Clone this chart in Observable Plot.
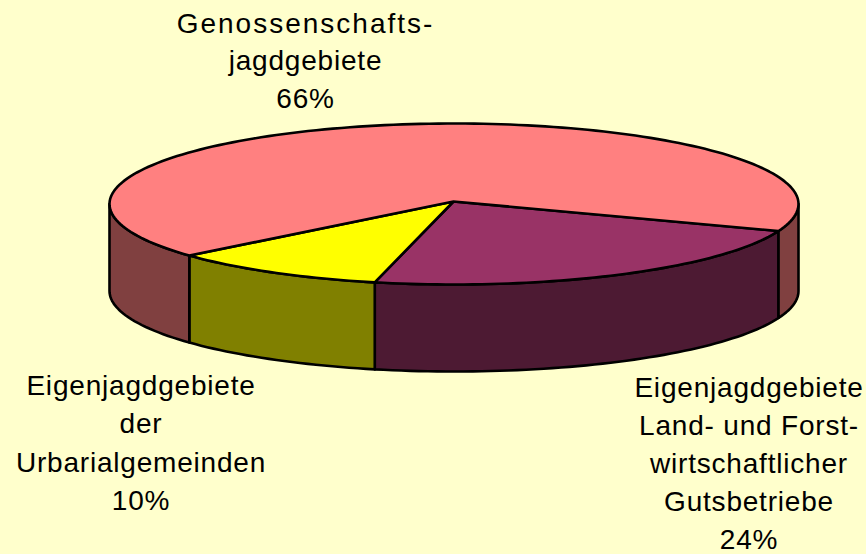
<!DOCTYPE html>
<html><head><meta charset="utf-8">
<style>html,body{margin:0;padding:0;background:#ffffcc}svg{display:block}svg text{letter-spacing:0.8px}</style>
<script src="https://cdn.jsdelivr.net/npm/d3@7"></script>
<script src="https://cdn.jsdelivr.net/npm/@observablehq/plot@0.6"></script>
</head><body><div id="c"></div>
<script>
const categories = ["Eigenjagdgebiete Land- und Forstwirtschaftlicher Gutsbetriebe", "Eigenjagdgebiete der Urbarialgemeinden", "Genossenschaftsjagdgebiete"];
// Slice sizes as measured on the drawn ellipse; the printed percentages are in the labels.
const shares = [23.25, 10.25, 66.5];
const topColors = ["#993366", "#ffff00", "#ff8080"];
const wallColors = ["#4d1a33", "#808000", "#804040"];
const labels = [
  "Eigenjagdgebiete\nLand- und Forst-\nwirtschaftlicher\nGutsbetriebe\n24%",
  "Eigenjagdgebiete\nder\nUrbarialgemeinden\n10%",
  "Genossenschafts-\njagdgebiete\n66%"
];
const labelX = [748.5, 140.5, 305];
const labelY = [370, 366.6, 5.4];
const labelLeading = [1.35, 1.38, 1.34];

const W = 866, H = 554;
const cx = 453.5, cy = 203.5, rx = 344.5, ry = 80.5, depth = 87;
const apex = {x: 453, y: 201};
const startDeg = 19.6;
const rim = (d, dz = 0) => ({
  x: cx + rx * Math.cos(d * Math.PI / 180),
  y: cy + ry * Math.sin(d * Math.PI / 180) + dz
});
const arc = (a, b, dz = 0) => {
  const n = Math.max(2, Math.ceil(Math.abs(b - a) / 1.5));
  return d3.range(n + 1).map(i => rim(a + (b - a) * i / n, dz));
};
let acc = startDeg;
const slices = shares.map((s, i) => {
  const a = acc, b = acc + s * 3.6; acc = b;
  return {a, b, top: topColors[i], wall: wallColors[i]};
});
const poly = (pts, fill) => Plot.line(pts, {
  x: "x", y: "y", fill, stroke: "black", strokeWidth: 2.6,
  strokeLinejoin: "round", curve: "linear-closed"
});
const walls = [];
for (const s of slices) {
  for (const [lo, hi] of [[0, 180], [360, 540]]) {
    const a = Math.max(s.a, lo), b = Math.min(s.b, hi);
    if (b > a) walls.push(poly([...arc(a, b), ...arc(b, a, depth)], s.wall));
  }
}
const tops = slices.map(s => poly([apex, ...arc(s.a, s.b)], s.top));
const texts = labels.map((t, i) => Plot.text([t], {
  x: () => labelX[i], y: () => labelY[i], text: d => d,
  fontSize: 28, lineHeight: labelLeading[i], lineAnchor: "top", textAnchor: "middle", fill: "black"
}));

const plot = Plot.plot({
  width: W, height: H, margin: 0,
  style: {background: "#ffffcc", fontFamily: "'Liberation Sans', Arial, sans-serif"},
  x: {domain: [0, W], range: [0, W], axis: null},
  y: {domain: [0, H], range: [0, H], axis: null},
  marks: [...walls, ...tops, ...texts]
});
document.getElementById("c").append(plot);
plot.querySelectorAll("tspan").forEach(t => {
  if (t.textContent.startsWith("Genossen")) t.style.letterSpacing = "2px";
});
</script></body></html>
